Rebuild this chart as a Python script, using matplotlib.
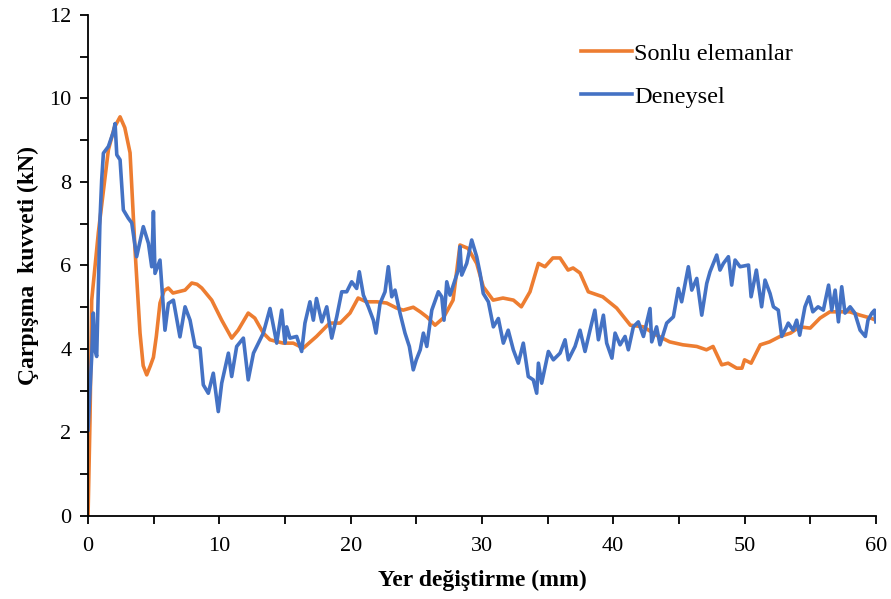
import matplotlib.pyplot as plt

plt.rcParams['font.family'] = 'Liberation Serif'

# Sonlu elemanlar (FEM) curve
fem_x = [0, 0.15, 0.28, 0.79, 1.55, 2.0, 2.44, 2.8, 3.2, 3.58, 3.96, 4.2, 4.47, 4.75, 4.98, 5.2,
         5.48, 5.8, 6.12, 6.47, 7.0, 7.39, 7.9, 8.3, 8.66, 9.42, 10.18, 10.94, 11.43, 12.2,
         12.7, 13.35, 13.86, 14.87, 15.63, 16.39, 17.4, 18.4, 19.2, 19.95, 20.57, 21.2, 22.0,
         22.75, 23.5, 24.0, 24.77, 25.3, 25.8, 26.43, 27.05, 27.8, 28.33, 28.94, 29.6, 30.1,
         30.85, 31.6, 32.4, 33.0, 33.66, 34.3, 34.8, 35.4, 35.95, 36.56, 36.94, 37.47, 38.1,
         39.2, 40.26, 41.3, 42.3, 43.3, 44.3, 45.3, 46.36, 47.1, 47.6, 48.26, 48.75, 49.4,
         49.8, 50.0, 50.5, 51.2, 51.9, 52.7, 53.5, 54.2, 55.0, 55.75, 56.5, 57.3, 58.0, 58.8,
         59.6, 60.0]
fem_y = [0, 2.3, 5.17, 6.8, 8.77, 9.3, 9.56, 9.3, 8.7, 6.37, 4.38, 3.6, 3.38, 3.6, 3.8, 4.3,
         5.1, 5.4, 5.46, 5.34, 5.38, 5.41, 5.58, 5.55, 5.46, 5.17, 4.69, 4.26, 4.45, 4.86,
         4.74, 4.38, 4.22, 4.14, 4.14, 4.02, 4.3, 4.62, 4.62, 4.86, 5.22, 5.13, 5.13,
         5.1, 4.98, 4.93, 5.0, 4.89, 4.77, 4.57, 4.74, 5.17, 6.49, 6.41, 6.05, 5.49,
         5.17, 5.22, 5.17, 5.01, 5.37, 6.05, 5.97, 6.18, 6.18, 5.89, 5.94, 5.82, 5.37,
         5.25, 4.98, 4.57, 4.53, 4.33, 4.17, 4.1, 4.06, 3.98, 4.06, 3.62, 3.66, 3.54,
         3.54, 3.74, 3.66, 4.1, 4.17, 4.3, 4.38, 4.53, 4.5, 4.74, 4.89, 4.89, 4.89, 4.81,
         4.74, 4.69]

exp_x = [0, 0.28, 0.4, 0.53, 0.66, 0.91, 1.04, 1.17, 1.55, 1.93, 2.06, 2.19, 2.44, 2.69, 3.07,
         3.33, 3.7, 4.21, 4.6, 4.85, 4.98, 5.1, 5.48, 5.86, 6.12, 6.5, 7.0, 7.39, 7.77, 8.15,
         8.53, 8.78, 9.16, 9.54, 9.92, 10.18, 10.69, 10.94, 11.32, 11.83, 12.2, 12.6, 13.35,
         13.86, 14.37, 14.75, 15.0, 15.13, 15.38, 15.89, 16.27, 16.52, 16.9, 17.16, 17.4,
         17.8, 18.18, 18.56, 18.94, 19.32, 19.7, 20.08, 20.46, 20.66, 20.97, 21.35, 21.73,
         21.93, 22.24, 22.62, 22.87, 23.13, 23.38, 23.76, 24.14, 24.47, 24.77, 25.0, 25.3,
         25.54, 25.8, 26.18, 26.68, 26.94, 27.11, 27.32, 27.57, 27.95, 28.2, 28.33, 28.46,
         28.84, 29.22, 29.6, 29.86, 30.1, 30.49, 30.87, 31.25, 31.63, 32.0, 32.39, 32.77,
         33.15, 33.53, 33.91, 34.17, 34.3, 34.55, 35.06, 35.44, 35.95, 36.33, 36.58, 37.09,
         37.47, 37.85, 38.23, 38.6, 38.87, 39.25, 39.5, 39.9, 40.14, 40.52, 40.9, 41.15,
         41.53, 41.91, 42.3, 42.8, 42.93, 43.3, 43.56, 44.07, 44.58, 44.96, 45.21, 45.72,
         45.98, 46.36, 46.74, 47.12, 47.37, 47.88, 48.13, 48.39, 48.77, 49.02, 49.28, 49.66,
         50.3, 50.5, 50.9, 51.3, 51.56, 51.94, 52.2, 52.57, 52.83, 53.2, 53.33, 53.7, 53.97,
         54.2, 54.6, 54.9, 55.2, 55.6, 56.0, 56.4, 56.64, 56.9, 57.15, 57.4, 57.65, 58.04,
         58.4, 58.8, 59.2, 59.4, 59.7, 59.9, 60.0]
exp_y = [2.06, 3.82, 4.86, 3.97, 3.82, 7.09, 8.05, 8.69, 8.85, 9.2, 9.4, 8.65, 8.53, 7.33, 7.13,
         7.02, 6.21, 6.93, 6.53, 5.97, 7.29, 5.81, 6.13, 4.45, 5.09, 5.17, 4.29, 5.01, 4.69, 4.06,
         4.02, 3.14, 2.94, 3.42, 2.5, 3.18, 3.9, 3.34, 4.06, 4.26, 3.26, 3.9, 4.38,
         4.97, 4.14, 4.93, 4.14, 4.53, 4.26, 4.3, 3.94, 4.62, 5.13, 4.69, 5.21,
         4.65, 5.01, 4.26, 4.77, 5.37, 5.37, 5.61, 5.45, 5.85, 5.29, 5.01, 4.69,
         4.38, 5.09, 5.37, 5.97, 5.25, 5.41, 4.86, 4.38, 4.06, 3.5, 3.74, 3.98,
         4.38, 4.06, 4.93, 5.37, 5.25, 4.69, 5.61, 5.29, 5.65, 5.89, 6.45, 5.77,
         6.05, 6.61, 6.21, 5.81, 5.33, 5.13, 4.53, 4.73, 4.14, 4.45, 3.98, 3.66,
         4.14, 3.34, 3.26, 2.94, 3.66, 3.18, 3.94, 3.74, 3.9, 4.22, 3.74, 4.06,
         4.45, 3.94, 4.45, 4.93, 4.22, 4.81, 4.14, 3.78, 4.38, 4.1, 4.3, 3.98,
         4.53, 4.65, 4.3, 4.97, 4.17, 4.53, 4.1, 4.62, 4.77, 5.45, 5.13, 5.97,
         5.41, 5.69, 4.81, 5.57, 5.85, 6.25, 5.89, 6.05, 6.21, 5.53, 6.13, 5.97,
         6.01, 5.25, 5.89, 5.01, 5.65, 5.33, 5.01, 4.93, 4.3, 4.53, 4.62, 4.45, 4.69,
         4.33, 5.01, 5.25, 4.89, 5.01, 4.93, 5.53, 4.93, 5.41, 4.65, 5.49, 4.86, 5.01,
         4.86, 4.45, 4.3, 4.69, 4.86, 4.93, 4.65]

fig = plt.figure(figsize=(8.91, 5.99), dpi=100)
ax = fig.add_axes([0.0988, 0.1386, 0.8842, 0.8364])

ax.plot(fem_x, fem_y, color='#ED7D31', linewidth=2.6, label='Sonlu elemanlar')
ax.plot(exp_x, exp_y, color='#4472C4', linewidth=2.6, label='Deneysel')

ax.set_xlim(0, 60)
ax.set_ylim(0, 12)
ax.set_xticks(range(0, 61, 10))
ax.set_xticks(range(0, 61, 5), minor=True)
ax.set_yticks(range(0, 13, 2))
ax.set_yticks(range(0, 13, 1), minor=True)
ax.tick_params(which='both', direction='out', length=6, width=1.3, labelsize=16, color='black')
ax.tick_params(axis='x', pad=9)
ax.tick_params(axis='y', pad=6)
ax.spines['top'].set_visible(False)
ax.spines['right'].set_visible(False)
ax.spines['left'].set_linewidth(1.3)
ax.spines['bottom'].set_linewidth(1.3)

ax.set_xlabel('Yer değiştirme (mm)', fontweight='bold', fontsize=17, labelpad=10)
ax.set_ylabel('Çarpışma  kuvveti (kN)', fontweight='bold', fontsize=17, labelpad=7)

ax.legend(loc='upper left', bbox_to_anchor=(0.627, 0.965), bbox_transform=fig.transFigure,
          frameon=False, fontsize=17.5, handlelength=2.1, handletextpad=0.1, labelspacing=0.85)

fig.savefig('out.png', dpi=100)
